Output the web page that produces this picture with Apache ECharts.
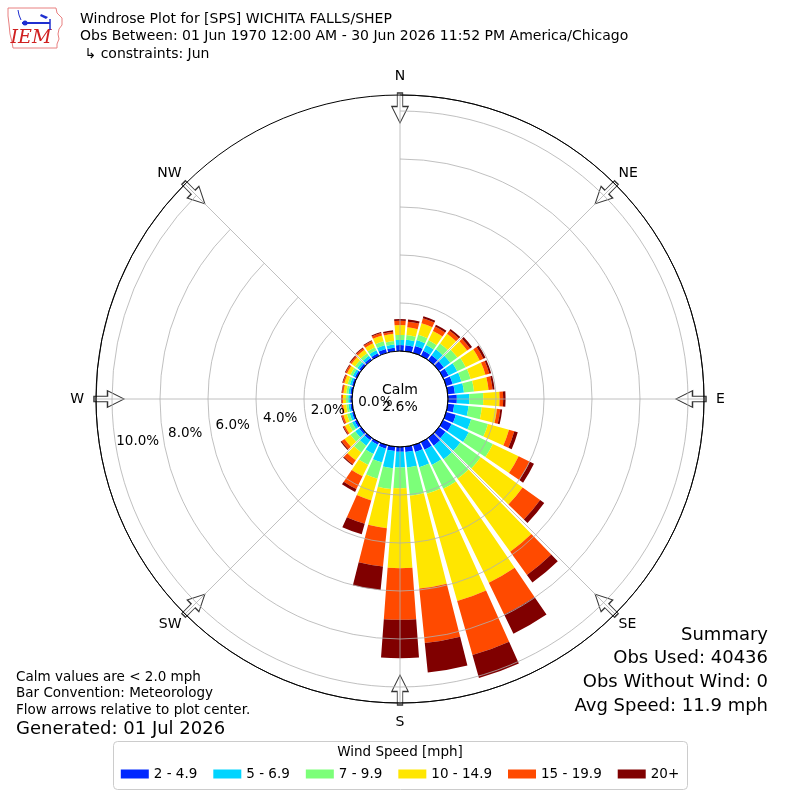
<!DOCTYPE html>
<html><head><meta charset="utf-8">
<script src="https://cdn.jsdelivr.net/npm/echarts@6/dist/echarts.min.js"></script>
<style>html,body{margin:0;padding:0;background:#fff}#c{width:800px;height:800px}</style>
</head><body><div id="c"></div>
<script>
// ---------- data ----------
const DIRECTIONS = [0,10,20,30,40,50,60,70,80,90,100,110,120,130,140,150,160,170,
                    180,190,200,210,220,230,240,250,260,270,280,290,300,310,320,330,340,350];
const SPEED_BINS = ['2 - 4.9','5 - 6.9','7 - 9.9','10 - 14.9','15 - 19.9','20+'];
// percent of observations per direction, per speed bin
const BIN_2_TO_4_9 =  [.25,.25,.30,.23,.25,.25,.25,.28,.30,.37,.27,.42,.39,.34,.40,.35,.30,.22,
                       .20,.18,.15,.12,.12,.10,.10,.08,.08,.08,.08,.08,.09,.10,.10,.12,.17,.15];
const BIN_5_TO_6_9 =  [.21,.23,.25,.27,.30,.33,.40,.38,.38,.52,.60,.66,.79,.76,.70,.70,.65,.65,
                       .65,.72,.60,.43,.28,.20,.12,.10,.08,.08,.08,.09,.10,.10,.12,.14,.16,.13];
const BIN_7_TO_9_9 =  [.21,.20,.23,.22,.30,.37,.39,.40,.42,.58,.56,.73,1.12,1.05,1.00,1.10,1.15,1.18,
                       .87,.87,.70,.50,.35,.25,.16,.12,.09,.09,.09,.10,.11,.12,.13,.14,.17,.15];
const BIN_10_TO_14_9 = [.41,.32,.50,.43,.50,.50,.65,.64,.61,.68,.63,.91,1.19,2.15,3.75,4.35,4.65,3.89,
                       3.33,1.64,.94,.53,.40,.30,.17,.15,.13,.13,.12,.14,.15,.17,.18,.18,.25,.30];
const BIN_15_TO_19_9 = [.18,.24,.22,.20,.17,.15,.17,.17,.17,.15,.14,.23,.52,.90,1.19,1.47,2.34,2.28,
                       2.15,1.61,1.01,.59,.20,.15,.07,.07,.06,.05,.06,.06,.07,.07,.08,.10,.11,.09];
const BIN_20_PLUS =   [.07,.09,.08,.09,.08,.10,.10,.08,.08,.10,.08,.15,.19,.21,.39,.89,.99,1.23,
                       1.60,.98,.46,.13,.05,.05,.03,.03,.02,.02,.02,.03,.03,.04,.04,.04,.04,.06];
const BIN_VALUES = [BIN_2_TO_4_9, BIN_5_TO_6_9, BIN_7_TO_9_9, BIN_10_TO_14_9, BIN_15_TO_19_9, BIN_20_PLUS];
const BIN_COLORS = ['#0028ff','#00d4ff','#7cff79','#ffe600','#ff4a00','#800000'];

const COMPASS = ['N','NE','E','SE','S','SW','W','NW'];
const COMPASS_DEG = [0,45,90,135,180,225,270,315];
const RING_TICKS = [0,2,4,6,8,10];
const RING_LABELS = ['0.0%','2.0%','4.0%','6.0%','8.0%','10.0%'];
const CALM_PCT = '2.6%';

const TITLE_LINES = ['Windrose Plot for [SPS] WICHITA FALLS/SHEP',
                     'Obs Between: 01 Jun 1970 12:00 AM - 30 Jun 2026 11:52 PM America/Chicago',
                     ' \u21b3 constraints: Jun'];
const NOTE_LINES = ['Calm values are < 2.0 mph','Bar Convention: Meteorology','Flow arrows relative to plot center.'];
const GENERATED = 'Generated: 01 Jul 2026';
const SUMMARY_LINES = ['Summary','Obs Used: 40436','Obs Without Wind: 0','Avg Speed: 11.9 mph'];
const LEGEND_TITLE = 'Wind Speed [mph]';

// ---------- layout ----------
const CX = 400, CY = 399, R0 = 48, R1 = 304, PX_PER_PCT = 24;
const RMAX = (R1 - R0) / PX_PER_PCT;
const ARROW_R = (291 - R0) / PX_PER_PCT;
const FONT = '"DejaVu Sans", sans-serif';
const GRID = '#b0b0b0';
const ARROW_PATH = 'path://M-2.75,-15 L2.75,-15 L2.75,-1.5 L8.25,-1.5 L0,15 L-8.25,-1.5 L-2.75,-1.5 Z';
// extra spacing for the cardinal labels (diagonal labels sit closer to the ring)
const LABEL_PAD = {N:[0,0,7,0], E:[0,0,0,7], S:[7,0,0,0], W:[0,7,0,0]};

const chart = echarts.init(document.getElementById('c'), null, {renderer:'canvas'});

const barSeries = SPEED_BINS.map((name, k) => ({
  type:'bar', name, coordinateSystem:'polar', polarIndex:0, stack:'wind',
  data: BIN_VALUES[k], barCategoryGap:'16%', silent:true, z:2,
  itemStyle:{color: BIN_COLORS[k]}
}));

const txt = (x, y, text, size, align, extra) => ({
  type:'text', x, y, silent:true, z:50,
  style: Object.assign({text, fill:'#000', fontSize:size, fontFamily:FONT, align, verticalAlign:'middle'}, extra || {})
});

const graphics = [];
TITLE_LINES.forEach((t,i) => graphics.push(txt(80, 19 + i*17.5, t, 14, 'left')));
NOTE_LINES.forEach((t,i) => graphics.push(txt(16, 677 + i*16.5, t, 13.5, 'left')));
graphics.push(txt(16, 729, GENERATED, 18, 'left'));
SUMMARY_LINES.forEach((t,i) => graphics.push(txt(768, 635 + i*23.7, t, 18, 'right')));
graphics.push(txt(400, 399, 'Calm\n' + CALM_PCT, 14, 'center', {lineHeight:17}));
// legend frame + title
graphics.push({type:'rect', silent:true, z:1, shape:{x:113.5, y:741.5, width:574, height:48, r:4},
  style:{fill:'#fff', stroke:'#cccccc', lineWidth:1}});
graphics.push(txt(400, 752, LEGEND_TITLE, 13.5, 'center'));
// simple IEM logo
graphics.push({type:'polyline', silent:true, z:50,
  shape:{points:[[8,8],[56,8],[57,13],[62,18],[62,25],[59,29],[58,34],[59,39],[57,44],[57,48],[13,48],[12,42],[10,34],[9,24],[8,16],[8,8]]},
  style:{stroke:'#e88080', lineWidth:1, fill:null}});
graphics.push(txt(31, 38, 'IEM', 19, 'center', {fill:'#d02020', fontStyle:'italic', fontFamily:'"DejaVu Serif", serif'}));
graphics.push({type:'polyline', silent:true, z:50, shape:{points:[[22,23],[50,23]]},
  style:{stroke:'#1f2fd0', lineWidth:2, fill:null}});
graphics.push({type:'polyline', silent:true, z:50, shape:{points:[[50,19],[50,30]]},
  style:{stroke:'#1f2fd0', lineWidth:1.5, fill:null}});
graphics.push({type:'polygon', silent:true, z:50, shape:{points:[[41,14],[48,17],[46,19],[40,16]]},
  style:{fill:'#1f2fd0'}});
graphics.push({type:'circle', silent:true, z:50, shape:{cx:25, cy:23, r:2.5}, style:{fill:'#1f2fd0'}});
graphics.push({type:'polyline', silent:true, z:50, shape:{points:[[18,10],[19,15],[21,20]]},
  style:{stroke:'#1f2fd0', lineWidth:1, fill:null}});

const option = {
  backgroundColor:'#fff',
  animation:false,
  polar:[
    {center:[CX,CY], radius:[R0,R1]},
    {center:[CX,CY], radius:[R0,R1]},
    {center:[CX,CY-1], radius:[25,266]}
  ],
  angleAxis:[
    {polarIndex:0, type:'category', data:DIRECTIONS.map(String), startAngle:95, clockwise:true,
     axisLine:{show:false}, axisTick:{show:false}, axisLabel:{show:false}, splitLine:{show:false}},
    {polarIndex:1, type:'category', boundaryGap:false, startAngle:90, clockwise:true, z:5,
     data:COMPASS.map(d => LABEL_PAD[d] ? {value:d, textStyle:{padding:LABEL_PAD[d]}} : d),
     axisLine:{show:true, lineStyle:{color:'#000', width:1}},
     axisTick:{show:false},
     axisLabel:{show:true, margin:5, fontSize:14, color:'#000', fontFamily:FONT},
     splitLine:{show:true, lineStyle:{color:GRID, width:0.8}}},
    {polarIndex:2, type:'value', min:0, max:360, startAngle:189.5, show:false}
  ],
  radiusAxis:[
    {polarIndex:0, type:'value', min:0, max:RMAX, show:false},
    {polarIndex:1, type:'value', min:0, max:RMAX, interval:2, z:5,
     axisLine:{show:false}, axisTick:{show:false}, axisLabel:{show:false},
     splitLine:{show:true, lineStyle:{color:['#000',GRID,GRID,GRID,GRID,GRID,'#000'], width:0.8}}},
    {polarIndex:2, type:'value', min:0, max:10, interval:2, z:6,
     axisLine:{show:false}, axisTick:{show:false}, splitLine:{show:false},
     axisLabel:{show:true, margin:0, align:'center', verticalAlign:'middle', fontSize:13.5, color:'#000', fontFamily:FONT,
       formatter:(v) => { const i = RING_TICKS.indexOf(Math.round(v)); return i >= 0 ? RING_LABELS[i] : ''; }}}
  ],
  legend:{
    data:SPEED_BINS, left:'center', top:767, icon:'rect', itemWidth:28, itemHeight:9, itemGap:16,
    padding:0, selectedMode:false,
    textStyle:{fontSize:13.5, color:'#000', fontFamily:FONT}
  },
  series: barSeries.concat([{
    type:'scatter', coordinateSystem:'polar', polarIndex:1, silent:true, z:4,
    symbol:ARROW_PATH, symbolSize:[16.5,30],
    itemStyle:{color:'rgba(255,255,255,0)', borderColor:'#000', borderWidth:1.1},
    data: COMPASS.map((d,i) => ({value:[ARROW_R, i], symbolRotate:-COMPASS_DEG[i]}))
  }]),
  graphic: graphics
};
chart.setOption(option);
</script>
</body></html>
